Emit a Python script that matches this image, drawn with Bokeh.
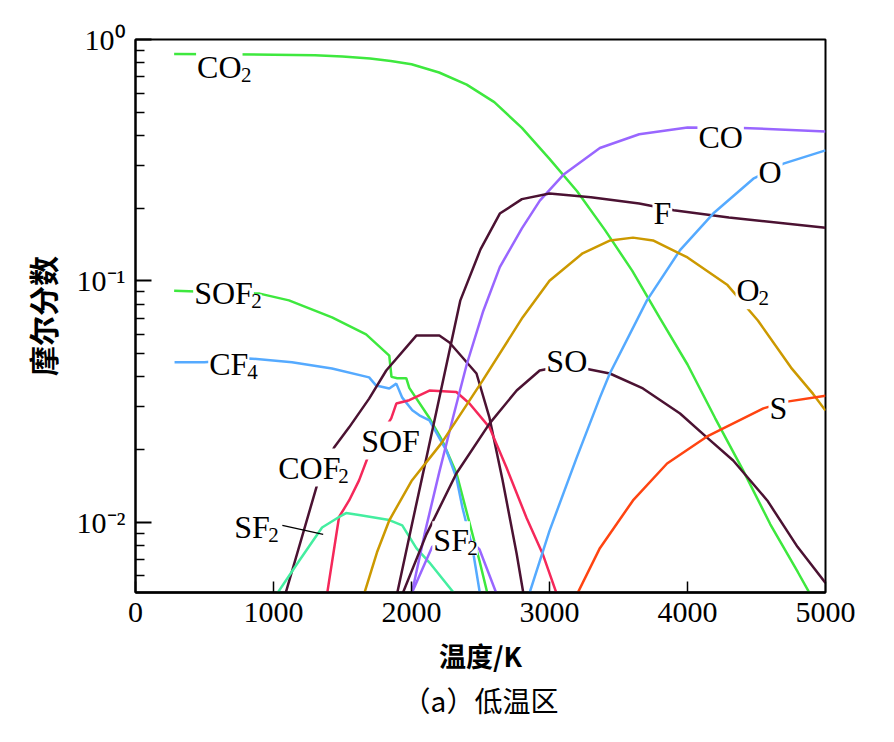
from bokeh.plotting import figure
from bokeh.models import Label, Range1d, FixedTicker, CustomJSTickFormatter, Title
from bokeh.embed import file_html
from bokeh.resources import INLINE

# ---------------- data (temperature K, mole fraction) ----------------
T_co2 = [280, 600, 1000, 1300, 1500, 1700, 1850, 2000, 2200, 2400, 2600, 2800, 3000, 3200, 3400, 3600, 3800, 4000, 4200, 4400, 4600, 4800, 4900]
co2 = [0.87, 0.868, 0.865, 0.86, 0.85, 0.835, 0.815, 0.79, 0.73, 0.65, 0.55, 0.43, 0.32, 0.235, 0.163, 0.11, 0.07, 0.045, 0.027, 0.0165, 0.0098, 0.0062, 0.0049]

T_sof2 = [280, 900, 1112, 1424, 1671, 1839, 1855, 1897, 1962, 1984, 2130, 2224, 2325, 2493, 2560]
sof2 = [0.091, 0.0885, 0.083, 0.0705, 0.06, 0.049, 0.04, 0.0395, 0.0395, 0.036, 0.027, 0.0217, 0.016, 0.0069, 0.0048]

T_cf4 = [283, 500, 822, 1134, 1424, 1693, 1744, 1839, 1890, 1933, 2006, 2057, 2130, 2253, 2325, 2369, 2442, 2500]
cf4 = [0.046, 0.046, 0.0477, 0.046, 0.0433, 0.0398, 0.0368, 0.0358, 0.0375, 0.0328, 0.0291, 0.0277, 0.0264, 0.0198, 0.0153, 0.0115, 0.0078, 0.0049]

T_cof2 = [1080, 1315, 1439, 1548, 1693, 1817, 2035, 2202, 2275, 2471, 2565, 2660, 2762, 2815]
cof2 = [0.0049, 0.0142, 0.0204, 0.0247, 0.0325, 0.0425, 0.0593, 0.0593, 0.0555, 0.0413, 0.0271, 0.0149, 0.0074, 0.0049]

T_sof = [1385, 1475, 1548, 1620, 1693, 1853, 1890, 1984, 2130, 2325, 2420, 2565, 2689, 2834, 2950, 3060]
sof = [0.0049, 0.0105, 0.0123, 0.0149, 0.0192, 0.0269, 0.031, 0.032, 0.0351, 0.0346, 0.031, 0.0247, 0.0168, 0.0104, 0.0074, 0.0049]

T_sf2a = [1010, 1185, 1352, 1475, 1526, 1620, 1839, 1933, 2035, 2130, 2330]
sf2a = [0.0049, 0.0069, 0.0095, 0.0105, 0.0109, 0.0107, 0.0102, 0.0097, 0.0078, 0.0068, 0.0049]

T_sf2b = [1990, 2150, 2250, 2330, 2405, 2493, 2625]
sf2b = [0.0049, 0.0079, 0.0086, 0.0087, 0.0086, 0.0077, 0.0049]

T_co = [2003, 2100, 2200, 2300, 2400, 2520, 2640, 2800, 2930, 3100, 3365, 3650, 4000, 4400, 5000]
co = [0.0051, 0.0092, 0.016, 0.027, 0.045, 0.075, 0.114, 0.165, 0.215, 0.275, 0.355, 0.405, 0.432, 0.43, 0.416]

T_f = [1897, 2000, 2100, 2200, 2354, 2500, 2640, 2800, 3000, 3300, 3650, 3900, 4300, 5000]
f = [0.0051, 0.0096, 0.0176, 0.0324, 0.083, 0.135, 0.19, 0.218, 0.23, 0.222, 0.209, 0.196, 0.183, 0.166]

T_so = [1926, 2108, 2325, 2565, 2762, 2929, 3100, 3256, 3437, 3677, 3946, 4142, 4331, 4578, 4797, 5000]
so = [0.0049, 0.0089, 0.0159, 0.0256, 0.0351, 0.0425, 0.0445, 0.0433, 0.0413, 0.0358, 0.0282, 0.0224, 0.018, 0.0123, 0.0079, 0.0056]

T_o = [2856, 3000, 3197, 3365, 3437, 3706, 3946, 4186, 4477, 4695, 5000]
o = [0.0051, 0.0092, 0.0185, 0.0328, 0.0413, 0.083, 0.134, 0.19, 0.265, 0.306, 0.347]

T_o2 = [1650, 1750, 1840, 2000, 2216, 2515, 2805, 3000, 3240, 3440, 3605, 3750, 4000, 4290, 4510, 4750, 4910, 5000]
o2 = [0.0049, 0.0075, 0.0102, 0.0148, 0.0212, 0.0386, 0.0705, 0.1, 0.13, 0.147, 0.151, 0.147, 0.125, 0.096, 0.0685, 0.0437, 0.034, 0.029]

T_s = [3190, 3365, 3605, 3852, 4150, 4550, 4710, 5000]
s = [0.0049, 0.0078, 0.0123, 0.0175, 0.0228, 0.0296, 0.0315, 0.0334]

x_ticks = [0, 1000, 2000, 3000, 4000, 5000]
y_major = [0.01, 0.1, 1.0]
y_minor = [0.006, 0.007, 0.008, 0.009, 0.02, 0.03, 0.04, 0.05, 0.06, 0.07, 0.08, 0.09,
           0.2, 0.3, 0.4, 0.5, 0.6, 0.7, 0.8, 0.9]

# species labels: main text, subscript, T, mole fraction (left / baseline), subscript shift px
species_labels = [
    ("CO", "2", 439, 0.698, 45),
    ("SOF", "2", 418, 0.0807, 58),
    ("CF", "4", 527, 0.041, 39),
    ("COF", "2", 1027, 0.0153, 61),
    ("SOF", "", 1628, 0.0198, 0),
    ("SF", "2", 708, 0.00864, 35),
    ("SF", "2", 2151, 0.00764, 35),
    ("SO", "", 2970, 0.0422, 0),
    ("CO", "", 4072, 0.3576, 0),
    ("O", "", 4507, 0.256, 0),
    ("F", "", 3746, 0.173, 0),
    ("O", "2", 4348, 0.083, 23),
    ("S", "", 4587, 0.0269, 0),
]
leader_T = [1064, 1360]
leader_v = [0.0097, 0.0089]

GREEN = "#3ee83e"
PURPLE = "#9966ff"
BLUE = "#55aaff"
DARK = "#4b1232"
GOLD = "#cc9900"
ORANGE = "#ff4411"
CRIMSON = "#f5285a"
MINT = "#44eea0"

SERIF = "Liberation Serif"
SERIF_STACK = "'Liberation Serif', 'Times New Roman', serif"
CJK = "Noto Sans CJK SC"

p = figure(x_range=Range1d(0, 5000), y_range=Range1d(0.00511, 1.0), y_axis_type="log",
           frame_width=690, frame_height=553,
           min_border_left=135, min_border_top=39, min_border_right=58, min_border_bottom=140,
           output_backend="svg", toolbar_location=None, title=None)

p.xgrid.visible = False
p.ygrid.visible = False
p.outline_line_color = "black"
p.outline_line_width = 2
p.background_fill_color = "white"
p.border_fill_color = "white"

series = [
    (T_co2, co2, GREEN), (T_sof2, sof2, GREEN), (T_cf4, cf4, BLUE), (T_cof2, cof2, DARK),
    (T_sof, sof, CRIMSON), (T_sf2a, sf2a, MINT), (T_sf2b, sf2b, PURPLE), (T_co, co, PURPLE),
    (T_f, f, DARK), (T_so, so, DARK), (T_o, o, BLUE), (T_o2, o2, GOLD), (T_s, s, ORANGE),
]
for xs, ys, c in series:
    p.line(xs, ys, line_color=c, line_width=2.5)

p.line(leader_T, leader_v, line_color="black", line_width=1.2)

for main, sub, tx, tv, dx in species_labels:
    p.add_layout(Label(x=tx, y=tv, y_offset=10, text=main, text_font=SERIF, text_font_size="32px",
                       text_baseline="alphabetic", text_align="left", text_color="black",
                       background_fill_color="white", padding=1))
    if sub:
        p.add_layout(Label(x=tx, y=tv, x_offset=dx, y_offset=2, text=sub, text_font=SERIF,
                           text_font_size="21px", text_baseline="alphabetic", text_align="left",
                           text_color="black", background_fill_color="white", padding=0))

# common axis text styling
p.axis.major_label_text_font = SERIF_STACK
p.axis.major_label_text_font_size = "30px"
p.axis.major_label_text_font_style = "normal"
p.axis.major_label_text_color = "black"
p.axis.axis_label_text_color = "black"

# x axis
p.xaxis.ticker = FixedTicker(ticks=x_ticks)
p.xaxis.major_tick_in = 11
p.xaxis.major_tick_out = 0
p.xaxis.minor_tick_line_color = None
p.xaxis.axis_line_width = 2.5
p.xaxis.major_tick_line_width = 1.5
p.xaxis.major_label_standoff = 10
p.xaxis.axis_label = "温度/K"
p.xaxis.axis_label_text_font = CJK
p.xaxis.axis_label_text_font_size = "27px"
p.xaxis.axis_label_text_font_style = "bold"
p.xaxis.axis_label_standoff = 11

# y axis
p.yaxis.ticker = FixedTicker(ticks=y_major, minor_ticks=y_minor)
p.yaxis.formatter = CustomJSTickFormatter(code="""
const e = Math.round(Math.log10(tick));
const m = {"0":"\u2070","1":"\u00b9","2":"\u00b2","3":"\u00b3","-":"\u207b"};
return "10" + String(e).split("").map(c => m[c]).join("");
""")
p.yaxis.major_tick_in = 16
p.yaxis.major_tick_out = 0
p.yaxis.minor_tick_in = 9
p.yaxis.minor_tick_out = 0
p.yaxis.axis_line_width = 2
p.yaxis.major_tick_line_width = 2
p.yaxis.minor_tick_line_width = 1.5
p.yaxis.major_label_standoff = 10
p.yaxis.axis_label = "摩尔分数"
p.yaxis.axis_label_text_font = CJK
p.yaxis.axis_label_text_font_size = "30px"
p.yaxis.axis_label_text_font_style = "bold"
p.yaxis.axis_label_standoff = 10

p.add_layout(Title(text="（a）低温区", align="center", text_font=CJK, text_font_size="28px",
                   text_font_style="normal", text_color="black", standoff=0), "below")

open("out.html", "w").write(file_html(p, INLINE))
